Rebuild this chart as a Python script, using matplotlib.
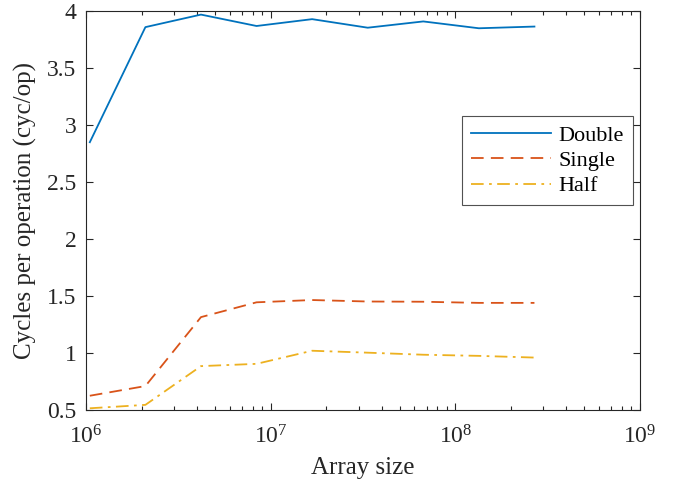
import matplotlib
matplotlib.use('Agg')
import matplotlib.pyplot as plt
import numpy as np
from matplotlib.ticker import FuncFormatter

plt.rcParams['font.family'] = ['Liberation Serif', 'DejaVu Serif']
plt.rcParams['mathtext.fontset'] = 'custom'
plt.rcParams['mathtext.rm'] = 'Liberation Serif'
plt.rcParams['mathtext.it'] = 'Liberation Serif:italic'

# array sizes 2^20 .. 2^28
sizes = [2**20, 2**21, 2**22, 2**23, 2**24, 2**25, 2**26, 2**27, 2**28]
double = [2.85, 3.86, 3.97, 3.87, 3.93, 3.855, 3.91, 3.85, 3.865]
single = [0.625, 0.71, 1.315, 1.445, 1.465, 1.452, 1.45, 1.44, 1.44]
half = [0.515, 0.545, 0.885, 0.905, 1.02, 1.003, 0.985, 0.975, 0.96]

fig = plt.figure(figsize=(6.8, 4.86), dpi=100)
ax = fig.add_axes([0.1265, 0.1564, 0.8145, 0.8206])

ax.plot(sizes, double, '-', color='#0072BD', lw=1.3, label='Double')
ax.plot(sizes, single, '--', color='#D95319', lw=1.3, dashes=(7, 4), label='Single')
ax.plot(sizes, half, '-.', color='#EDB120', lw=1.3, dashes=(7, 3, 1.5, 3), label='Half')

ax.set_xscale('log')
ax.set_xlim(1e6, 1e9)
ax.set_ylim(0.5, 4)
ax.set_yticks(np.arange(0.5, 4.01, 0.5))
ax.yaxis.set_major_formatter(FuncFormatter(lambda v, p: '%g' % v))
ax.set_xticks([1e6, 1e7, 1e8, 1e9])
ax.set_xticklabels([r'$\mathrm{10^{6}}$', r'$\mathrm{10^{7}}$', r'$\mathrm{10^{8}}$', r'$\mathrm{10^{9}}$'])

ax.tick_params(which='both', direction='in', top=True, right=True, labelsize=17, colors='#262626')
ax.tick_params(which='major', length=5, width=0.8)
ax.tick_params(which='minor', length=3, width=0.8)
ax.tick_params(axis='x', pad=11)
ax.tick_params(axis='y', pad=7)
for s in ax.spines.values():
    s.set_color('#262626')
    s.set_linewidth(0.8)

ax.set_xlabel('Array size', fontsize=18, color='#262626', labelpad=6)
ax.set_ylabel('Cycles per operation (cyc/op)', fontsize=18, color='#262626', labelpad=7)

leg = ax.legend(loc='upper right', bbox_to_anchor=(0.987, 0.737), fontsize=16,
                frameon=True, fancybox=False, edgecolor='#262626', handlelength=3.6,
                borderpad=0.4, labelspacing=0.22, handletextpad=0.35, borderaxespad=0)
leg.get_frame().set_linewidth(0.8)

fig.savefig('out.png', dpi=100)
